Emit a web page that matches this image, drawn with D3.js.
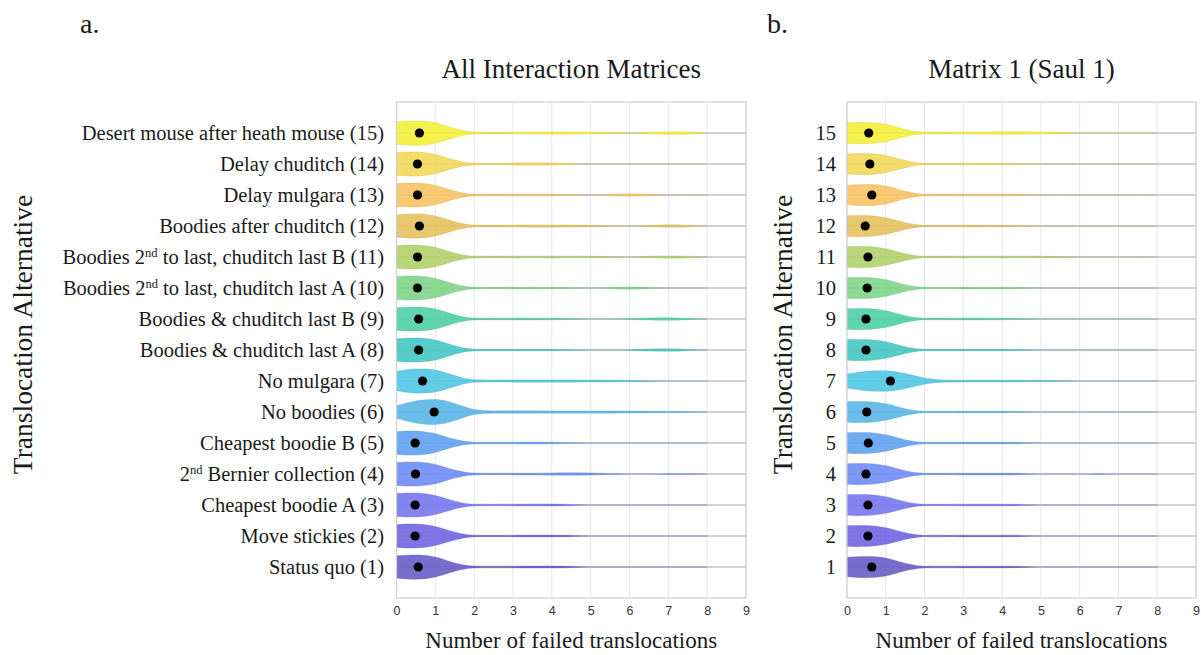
<!DOCTYPE html>
<html>
<head>
<meta charset="utf-8">
<script src="https://cdn.jsdelivr.net/npm/d3@7"></script>
<style>
  html, body { margin: 0; padding: 0; background: #fff; }
  svg { display: block; }
  .serif { font-family: "Liberation Serif", "Times New Roman", serif; fill: #1a1a1a; }
  .tick text { font-family: "Liberation Sans", Arial, sans-serif; font-size: 12.5px; fill: #333; }
</style>
</head>
<body>
<svg id="chart" width="1201" height="655"></svg>
<script>
// Translocation alternatives, index 0 = alternative (1)
const alternatives = [
  "Status quo (1)",
  "Move stickies (2)",
  "Cheapest boodie A (3)",
  ["", "2", "nd", " Bernier collection (4)"],
  "Cheapest boodie B (5)",
  "No boodies (6)",
  "No mulgara (7)",
  "Boodies & chuditch last A (8)",
  "Boodies & chuditch last B (9)",
  ["Boodies ", "2", "nd", " to last, chuditch last A (10)"],
  ["Boodies ", "2", "nd", " to last, chuditch last B (11)"],
  "Boodies after chuditch (12)",
  "Delay mulgara (13)",
  "Delay chuditch (14)",
  "Desert mouse after heath mouse (15)"
];
const altNumbers = d3.range(1, 16).map(String);

const xTicks = [0, 1, 2, 3, 4, 5, 6, 7, 8, 9];

// Points at which each violin's density is given
const densityGrid = [0, 0.25, 0.5, 0.75, 1, 1.25, 1.5, 1.75, 2,
                     2.5, 3, 3.5, 4, 4.5, 5, 5.5, 6, 6.5, 7, 7.5, 8];

// Mean number of failed translocations per alternative
const meansAll = [0.56, 0.48, 0.48, 0.49, 0.48, 0.97, 0.67, 0.57, 0.57, 0.54, 0.54, 0.59, 0.54, 0.54, 0.59];
const meansSaul = [0.64, 0.54, 0.54, 0.49, 0.55, 0.51, 1.12, 0.49, 0.49, 0.52, 0.54, 0.47, 0.64, 0.59, 0.56];

// Relative density (1 = widest violin) on densityGrid, all interaction matrices
const densityAll = [
  [0.90,0.95,0.97,0.93,0.80,0.57,0.33,0.16,0.08, 0.06,0.07,0.08,0.08,0.06,0.00,0,0,0,0,0,0],
  [0.92,0.96,0.96,0.90,0.76,0.54,0.32,0.15,0.07, 0.06,0.07,0.08,0.08,0.06,0.00,0,0,0,0,0,0],
  [0.92,0.96,0.96,0.90,0.76,0.54,0.31,0.15,0.07, 0.06,0.07,0.08,0.08,0.05,0.00,0,0,0,0,0,0],
  [0.92,0.96,0.96,0.90,0.77,0.55,0.32,0.16,0.08, 0.06,0.07,0.07,0.09,0.10,0.08,0.04,0,0,0.03,0.03,0],
  [0.92,0.96,0.96,0.89,0.75,0.52,0.30,0.14,0.07, 0.06,0.07,0.08,0.06,0.03,0,0,0,0,0,0,0],
  [0.50,0.70,0.88,0.98,1.00,0.90,0.68,0.42,0.20, 0.09,0.10,0.10,0.09,0.09,0.09,0.09,0.08,0.07,0.06,0.04,0],
  [0.78,0.90,0.97,0.96,0.88,0.68,0.44,0.22,0.10, 0.08,0.09,0.09,0.09,0.09,0.08,0.07,0.06,0.03,0,0,0],
  [0.90,0.95,0.96,0.92,0.80,0.58,0.34,0.16,0.07, 0.06,0.06,0.06,0.06,0.03,0,0,0.03,0.08,0.10,0.05,0],
  [0.90,0.95,0.96,0.92,0.80,0.58,0.34,0.16,0.07, 0.06,0.07,0.07,0.06,0.04,0,0,0.04,0.08,0.10,0.05,0],
  [0.92,0.96,0.96,0.90,0.77,0.55,0.32,0.15,0.07, 0.06,0.07,0.07,0.06,0.04,0,0.06,0.09,0.06,0,0,0],
  [0.92,0.96,0.96,0.90,0.77,0.55,0.32,0.15,0.07, 0.06,0.07,0.07,0.07,0.07,0.06,0.04,0,0.06,0.09,0.07,0],
  [0.90,0.95,0.97,0.93,0.80,0.58,0.34,0.17,0.08, 0.07,0.08,0.09,0.09,0.08,0.06,0.03,0,0.06,0.10,0.07,0],
  [0.92,0.96,0.96,0.90,0.77,0.55,0.32,0.15,0.07, 0.06,0.07,0.07,0.06,0.04,0,0.06,0.10,0.06,0,0,0],
  [0.92,0.96,0.96,0.90,0.77,0.55,0.32,0.15,0.07, 0.06,0.09,0.10,0.09,0.05,0,0,0,0,0,0,0],
  [0.90,0.95,0.97,0.94,0.82,0.60,0.36,0.18,0.08, 0.06,0.07,0.08,0.09,0.09,0.08,0.05,0,0.07,0.11,0.09,0]
];

// Relative density on densityGrid, matrix 1 (Saul 1)
const densitySaul = [
  [0.78,0.83,0.85,0.82,0.72,0.52,0.30,0.15,0.07, 0.06,0.07,0.07,0.07,0.05,0,0,0,0,0,0,0],
  [0.82,0.85,0.84,0.78,0.66,0.47,0.27,0.13,0.06, 0.06,0.07,0.07,0.07,0.05,0,0,0,0,0,0,0],
  [0.82,0.85,0.84,0.78,0.66,0.47,0.27,0.13,0.06, 0.06,0.07,0.07,0.07,0.05,0,0,0,0,0,0,0],
  [0.82,0.85,0.84,0.78,0.66,0.47,0.27,0.13,0.06, 0.06,0.07,0.07,0.07,0.05,0,0,0,0.03,0,0,0],
  [0.82,0.85,0.84,0.78,0.66,0.47,0.27,0.13,0.06, 0.06,0.07,0.07,0.07,0.05,0,0,0,0,0,0,0],
  [0.82,0.85,0.84,0.78,0.66,0.47,0.27,0.13,0.06, 0.06,0.07,0.07,0.06,0.04,0,0,0,0,0,0,0],
  [0.55,0.68,0.78,0.82,0.82,0.74,0.60,0.42,0.25, 0.09,0.07,0.07,0.07,0.07,0.06,0.04,0,0,0,0,0],
  [0.82,0.85,0.84,0.78,0.66,0.47,0.27,0.13,0.06, 0.06,0.06,0.06,0.06,0.04,0,0,0,0,0,0,0],
  [0.82,0.85,0.84,0.78,0.66,0.47,0.27,0.13,0.06, 0.06,0.07,0.07,0.06,0.04,0,0,0,0,0,0,0],
  [0.82,0.85,0.84,0.78,0.66,0.47,0.27,0.13,0.06, 0.06,0.07,0.07,0.07,0.05,0,0,0,0,0,0,0],
  [0.82,0.85,0.84,0.78,0.66,0.47,0.27,0.13,0.06, 0.06,0.07,0.07,0.07,0.07,0.06,0.04,0,0,0,0,0],
  [0.82,0.85,0.84,0.78,0.66,0.47,0.27,0.13,0.06, 0.06,0.07,0.07,0.06,0.04,0,0,0,0,0,0,0],
  [0.78,0.83,0.85,0.82,0.72,0.52,0.30,0.15,0.07, 0.06,0.07,0.07,0.07,0.05,0,0,0,0,0,0,0],
  [0.80,0.84,0.85,0.80,0.69,0.50,0.29,0.14,0.06, 0.06,0.07,0.07,0.06,0.04,0,0,0,0,0,0,0],
  [0.82,0.85,0.85,0.80,0.69,0.50,0.29,0.14,0.07, 0.07,0.08,0.09,0.10,0.10,0.08,0.05,0,0,0,0,0]
];

// One colour per alternative, (1) purple through (15) yellow
const altColors = ["#6a5cc8", "#7264e0", "#7876ee", "#6e8cf4", "#5ea2f0",
                   "#5ab6e8", "#50c6e2", "#44c8c2", "#4ecfa6", "#7ed58a",
                   "#b0d26a", "#e6c25c", "#f8c264", "#f2d85a", "#f4f038"];

const svg = d3.select("#chart");

const yScale = d3.scaleLinear().domain([0, 16]).range([598, 102]);
const widthScale = d3.scaleLinear().domain([0, 1]).range([0, 12.5]);

const panels = [
  { left: 396.5, right: 746, density: densityAll, means: meansAll, title: "All Interaction Matrices",
    letter: "a.", letterX: 80, yTitleX: 32, tickLabels: alternatives, tickRight: 384 },
  { left: 847, right: 1196, density: densitySaul, means: meansSaul, title: "Matrix 1 (Saul 1)",
    letter: "b.", letterX: 767, yTitleX: 792, tickLabels: altNumbers, tickRight: 836 }
];

const labelSize = 20.5;

panels.forEach(p => {
  const x = d3.scaleLinear().domain([0, 9]).range([p.left, p.right]);
  const g = svg.append("g");
  const top = yScale(16), bottom = yScale(0);

  // vertical grid
  g.append("g").selectAll("line").data(xTicks).join("line")
    .attr("x1", d => x(d)).attr("x2", d => x(d))
    .attr("y1", top).attr("y2", bottom)
    .attr("stroke", "#e4e4f4").attr("stroke-width", 1);

  // baselines
  g.append("g").selectAll("line").data(d3.range(1, 16)).join("line")
    .attr("x1", p.left).attr("x2", p.right)
    .attr("y1", d => yScale(d)).attr("y2", d => yScale(d))
    .attr("stroke", "#c0c0c8").attr("stroke-width", 1.5);

  // violins
  const area = d3.area()
    .curve(d3.curveMonotoneX)
    .x((d, i) => x(densityGrid[i]));
  p.density.forEach((dens, i) => {
    const yc = yScale(i + 1);
    g.append("path")
      .datum(dens)
      .attr("d", area.y0(d => yc - widthScale(d)).y1(d => yc + widthScale(d)))
      .attr("fill", altColors[i])
      .attr("fill-opacity", 0.9)
      .attr("stroke", d3.color(altColors[i]).darker(0.6))
      .attr("stroke-opacity", 0.35)
      .attr("stroke-width", 0.8);
  });

  // means
  g.append("g").selectAll("circle").data(p.means).join("circle")
    .attr("cx", d => x(d))
    .attr("cy", (d, i) => yScale(i + 1))
    .attr("r", 4.6)
    .attr("fill", "#000");

  // frame
  g.append("rect")
    .attr("x", p.left).attr("y", top)
    .attr("width", p.right - p.left).attr("height", bottom - top)
    .attr("fill", "none").attr("stroke", "#cfcfd8").attr("stroke-width", 1.2);

  // x axis
  const xAxis = d3.axisBottom(x).tickValues(xTicks).tickFormat(d3.format("d")).tickSize(0).tickPadding(8);
  const ax = g.append("g").attr("transform", `translate(0,${bottom})`).call(xAxis);
  ax.select(".domain").remove();

  // y tick labels
  const yl = g.append("g").selectAll("text").data(p.tickLabels).join("text")
    .attr("class", "serif")
    .attr("x", p.tickRight)
    .attr("y", (d, i) => yScale(i + 1) + 7)
    .attr("text-anchor", "end")
    .attr("font-size", labelSize);
  yl.each(function(d) {
    const t = d3.select(this);
    if (typeof d === "string") { t.text(d); return; }
    t.append("tspan").text(d[0]);
    t.append("tspan").text(d[1]);
    t.append("tspan").text(d[2]).attr("font-size", 12.5).attr("dy", -7);
    t.append("tspan").text(d[3]).attr("dy", 7);
  });

  // titles
  g.append("text").attr("class", "serif")
    .attr("x", (p.left + p.right) / 2).attr("y", 78)
    .attr("text-anchor", "middle").attr("font-size", 27)
    .text(p.title);
  g.append("text").attr("class", "serif")
    .attr("x", (p.left + p.right) / 2).attr("y", 648)
    .attr("text-anchor", "middle").attr("font-size", 23)
    .text("Number of failed translocations");
  g.append("text").attr("class", "serif")
    .attr("transform", `translate(${p.yTitleX},${yScale(8.5)}) rotate(-90)`)
    .attr("text-anchor", "middle").attr("font-size", 27.5)
    .text("Translocation Alternative");
  g.append("text").attr("class", "serif")
    .attr("x", p.letterX).attr("y", 33)
    .attr("font-size", 28)
    .text(p.letter);
});
</script>
</body>
</html>
